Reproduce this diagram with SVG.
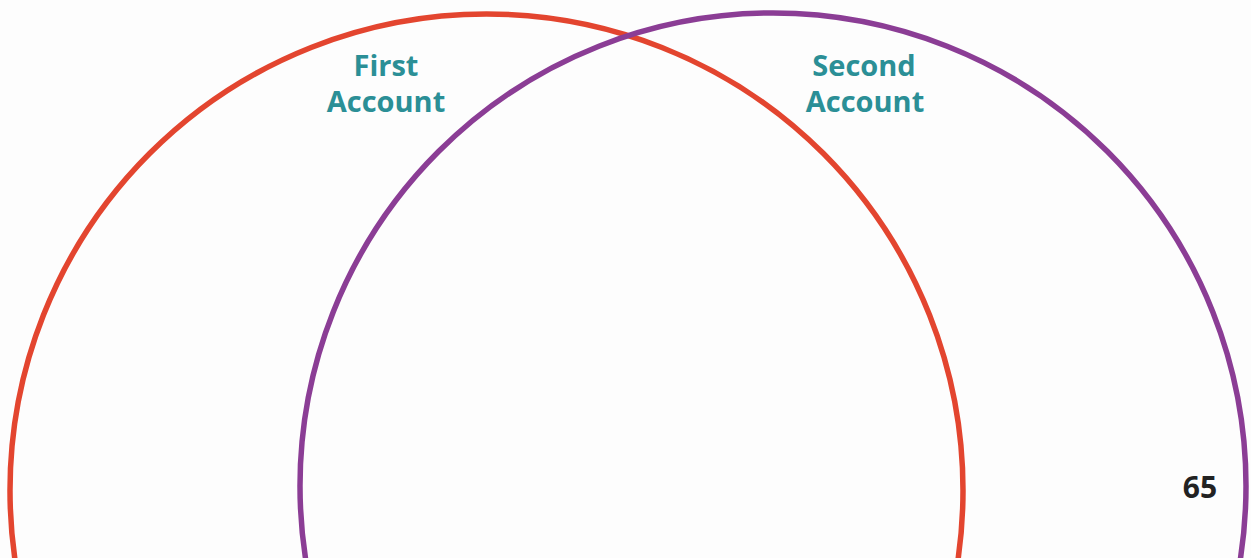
<svg xmlns="http://www.w3.org/2000/svg" width="1251" height="558" viewBox="0 0 1251 558">
  <style>
    .ring { fill: none; stroke-width: 5.5; }
    .label { font-family: "Open Sans", "Liberation Sans", sans-serif; font-weight: bold; font-size: 29px; fill: #2b8f96; text-anchor: middle; }
    .page { font-family: "Open Sans", "Liberation Sans", sans-serif; font-weight: bold; font-size: 30px; fill: #222222; text-anchor: middle; }
  </style>
  <rect width="1251" height="558" fill="#fdfdfd"/>
  <g id="first-account">
    <circle class="ring" cx="486.5" cy="490.5" r="476.5" stroke="#e3452f"/>
    <text class="label" x="386" y="76">First</text>
    <text class="label" x="386" y="112">Account</text>
  </g>
  <g id="second-account">
    <circle class="ring" cx="773" cy="486" r="473" stroke="#8b3d95"/>
    <text class="label" x="864" y="76">Second</text>
    <text class="label" x="865" y="112">Account</text>
  </g>
  <g id="connectors"></g>
  <text id="page-number" class="page" x="1200" y="498">65</text>
</svg>
